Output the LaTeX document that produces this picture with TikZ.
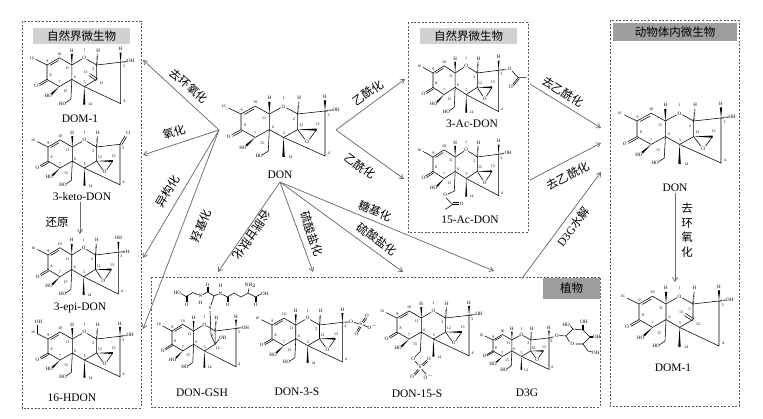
\documentclass[tikz,border=0pt]{standalone}
\usepackage{fontspec}
\setmainfont{Liberation Serif}
\newfontfamily\cjk{Noto Sans CJK SC}
\usetikzlibrary{arrows.meta}

\tikzset{
  bond/.style={line width=0.55pt},
  hash/.style={line width=1.3pt, dash pattern=on 0.5pt off 0.7pt},
  atom/.style={font=\fontsize{5}{5.5}\selectfont, inner sep=0pt},
  num/.style={font=\fontsize{4}{4.5}\selectfont, inner sep=0pt},
  cname/.style={font=\fontsize{11.5}{12}\selectfont, inner sep=1pt},
  cn/.style={font=\cjk\fontsize{11.5}{12}\selectfont, inner sep=0pt},
  rxn/.style={draw=black!58, line width=0.75pt, -{Straight Barb[length=4pt,width=5pt]}},
  zone/.style={draw=black!65, line width=0.75pt, dash pattern=on 2pt off 1.6pt},
  tag/.style={font=\cjk\fontsize{11.5}{12}\selectfont, inner sep=0pt, minimum height=16pt},
}

% DON skeleton, C9 at the origin
\newcommand{\donbase}{%
  \draw[bond] (0,0) -- (-12,-6);
  \draw[bond] (0,0) -- (13.5,-7.8) -- (27,0) -- (27,15.6) -- (13.5,23.4) -- (0,15.6) -- cycle;
  \draw[bond] (3,0.5) -- (12.5,-4.9);
  \draw[bond] (0,15.6) -- (-9,20.8) (0.9,17.2) -- (-8.1,22.4);
  \draw[bond] (27,0) -- (37.8,-6.2) (43.2,-6.2) -- (54,0) -- (54,15.6) -- (40.5,23.4) -- (27,15.6);
  \draw[bond] (54,0) -- (80,-3) -- (80,42) -- (40.5,23.4);
  \draw[bond] (27,15.6) -- (26,37);
  \fill (27,0) -- (25.9,-12) -- (28.1,-12) -- cycle;
  \draw[hash] (54,0) -- (55,-12);
  \fill (40.5,23.4) -- (39.3,43) -- (41.7,43) -- cycle;
  \fill (13.5,23.4) -- (4.3,30.8) -- (5.7,32.4) -- cycle;
  \node[atom] at (-11.8,23) {O};
  \node[atom] at (40.5,-7.6) {O};
  \node[atom] at (27,-15.8) {H};
  \node[atom] at (55.5,-15.8) {H};
  \node[atom, anchor=east] at (5.5,33.5) {HO};
  \node[num] at (-16.5,-7.5) {16};
  \node[num] at (0.5,-4) {9};
  \node[num] at (13.5,-12) {10};
  \node[num] at (22,4) {11};
  \node[num] at (4,11.5) {8};
  \node[num] at (13.5,19) {7};
  \node[num] at (30.5,13) {6};
  \node[num] at (41,19) {5};
  \node[num] at (40.5,-16) {1};
  \node[num] at (50.5,5) {2};
  \node[num] at (83.5,1) {3};
  \node[num] at (84,39) {4};
  \node[num] at (47,43) {14};
  \node[num] at (20,29) {15};
}
\newcommand{\donepox}{%
  \fill (54,15.6) -- (72,14.5) -- (72,16.7) -- cycle;
  \draw[bond] (72,15.6) -- (65.2,25.2) (60.8,25.2) -- (54,15.6);
  \node[atom] at (63,28) {O};
  \node[num] at (73,10.5) {13};
  \node[num] at (57.5,11.5) {12};
}
\newcommand{\domring}{%
  \draw[bond] (55,15) -- (46.5,9.3) (53.6,17) -- (45.4,11.5);
  \node[num] at (42,8) {13};
  \node[num] at (59,20) {12};
}
\newcommand{\donhthree}{%
  \fill (80,-3) -- (78.9,-13.5) -- (81.1,-13.5) -- cycle;
  \node[atom] at (80,-17) {H};
}
\newcommand{\donthree}{%
  \donhthree
  \draw[hash] (80,-3) -- (87,-4);
  \node[atom, anchor=west] at (87,-4.2) {OH};
}
\newcommand{\donho}{%
  \draw[bond] (26,37) -- (20.5,40.8);
  \node[atom, anchor=east] at (21,42) {HO};
}

\begin{document}
\begin{tikzpicture}[x=1pt, y=-1pt]
\useasboundingbox (0,0) rectangle (763,419);

% boxes
\draw[zone] (22,21) rectangle (141,408);
\draw[zone] (408,22) rectangle (528,232);
\draw[zone] (610,20) rectangle (739,406);
\draw[zone] (151,277) rectangle (600,407);
\node[tag, fill=black!18, minimum width=97pt] (hdr-l) at (81.5,36) {自然界微生物};
\node[tag, fill=black!18, minimum width=97pt] (hdr-m) at (468.5,36) {自然界微生物};
\node[tag, fill=black!38, minimum width=124pt, minimum height=18pt] (hdr-r) at (675,32) {动物体内微生物};
\node[tag, fill=black!38, minimum width=57pt, minimum height=21pt] (hdr-p) at (571.5,288.5) {植物};

% left column
\begin{scope}[shift={(47,65)}, scale=0.92]
  \donbase \domring \donthree \donho
\end{scope}
\node[cname] (dom1-l) at (80,119) {DOM-1};
\begin{scope}[shift={(48,147)}, scale=0.9]
  \donbase \donepox \donho
  \draw[bond] (80,-3) -- (85.5,-12.5) (81.8,-2) -- (87.3,-11.5);
  \node[atom] at (89,-15.5) {O};
\end{scope}
\node[cname] (keto) at (82,197) {3-keto-DON};
\begin{scope}[shift={(48,255)}, xscale=0.88, yscale=0.93]
  \donbase \donepox \donho
  \fill (80,-3) -- (78.9,-14) -- (81.1,-14) -- cycle;
  \node[atom] at (80,-18) {OH};
  \draw[hash] (80,-3) -- (88,-3.5);
  \node[atom, anchor=west] at (88.5,-3.7) {H};
\end{scope}
\node[cname] (epi) at (80,308) {3-epi-DON};
\begin{scope}[shift={(48,339)}, scale=0.9]
  \donbase \donepox \donthree \donho
  \draw[bond] (-12,-6) -- (-12,-16);
  \node[atom] at (-10.5,-19.5) {OH};
\end{scope}
\node[cname] (hdon) at (72,398) {16-HDON};

% centre
\begin{scope}[shift={(241,114)}, xscale=1.05]
  \donbase \donepox \donthree \donho
\end{scope}
\node[cname] (don) at (280,175) {DON};

% acetyl box
\begin{scope}[shift={(433,73)}, xscale=0.82, yscale=0.92]
  \donbase \donepox \donho \donhthree
  \draw[hash] (80,-3) -- (90,-4);
  \node[atom] at (93.5,-4.5) {O};
  \draw[bond] (96.5,-2) -- (104,5) -- (114,5);
  \draw[bond] (104,5) -- (97,12.5) (105.3,6.2) -- (98.3,13.7);
  \node[atom] at (95,15.5) {O};
\end{scope}
\node[cname] (ac3) at (472,124) {3-Ac-DON};
\begin{scope}[shift={(433,157)}, xscale=0.82, yscale=0.92]
  \donbase \donepox \donthree
  \draw[bond] (26,37) -- (18,40.5);
  \node[atom] at (15,41.5) {O};
  \draw[bond] (16,44.5) -- (24,51.5) -- (15,57);
  \draw[bond] (24,51.5) -- (32,51.5) (24,49.7) -- (32,49.7);
  \node[atom, anchor=west] at (32.5,50.8) {O};
\end{scope}
\node[cname] (ac15) at (470,220) {15-Ac-DON};

% animal box
\begin{scope}[shift={(637,121)}, xscale=1.05]
  \donbase \donepox \donthree \donho
\end{scope}
\node[cname] (don-r) at (675,188) {DON};
\begin{scope}[shift={(639,304)}]
  \donbase \domring \donthree \donho
\end{scope}
\node[cname] (dom1-r) at (673,368) {DOM-1};

% plant box
\begin{scope}[shift={(172,331)}, xscale=0.8, yscale=0.85]
  \donbase \donthree \donho
  \draw[bond] (54,15.6) -- (59,9.5);
  \node[atom, anchor=west] at (58.5,8) {OH};
  \node[num] at (57,20) {12};
\end{scope}
\node[atom, anchor=east] at (181,293) {HO};
\draw[bond] (181,293.5) -- (186,296.5) -- (193,292.5) -- (198.5,295);
\draw[bond] (186,296.5) -- (186,302) (187.4,296.5) -- (187.4,302);
\node[atom] at (186.7,305) {O};
\node[atom] at (200.5,295.5) {N};
\node[atom] at (200.5,302.5) {H};
\draw[bond] (202.5,295) -- (207.5,292) -- (214,296) -- (218.5,294);
\draw[bond] (207,292) -- (207,287.5) (208.4,292) -- (208.4,287.5);
\node[atom] at (207.7,284.5) {O};
\node[atom] at (220.5,293.5) {N};
\node[atom] at (220.5,285.5) {H};
\draw[bond] (214,296) -- (211,305);
\node[atom] at (210,308) {S};
\draw[bond] (210,311) -- (211,335) -- (215.2,344.3);
\draw[bond] (222.5,294.5) -- (227.5,297) -- (234,293) -- (241,297) -- (248,293) -- (255.5,297) -- (261,294);
\draw[bond] (227,297) -- (227,302) (228.4,297) -- (228.4,302);
\node[atom] at (227.7,305) {O};
\draw[bond] (248,293) -- (249,288.5);
\node[atom] at (250.5,285.5) {NH$_2$};
\draw[bond] (255,297) -- (255,302) (256.4,297) -- (256.4,302);
\node[atom] at (255.7,305) {O};
\node[atom, anchor=west] at (261,293.5) {OH};
\node[cname] (gsh) at (202,393) {DON-GSH};

\begin{scope}[shift={(272,325)}, scale=0.88]
  \donbase \donepox \donho \donhthree
  \draw[hash] (80,-3) -- (87,-3.5);
  \node[atom] at (90,-3.5) {O};
  \draw[bond] (93,-3) -- (98.5,-1.5);
  \node[atom] at (101,-1) {S};
  \draw[bond] (102.5,-3.5) -- (106,-8.5) (104,-2.5) -- (107.5,-7.5);
  \node[atom] at (108,-10.5) {O};
  \draw[bond] (103.5,0) -- (108.5,2);
  \node[atom, anchor=west] at (108.5,2.5) {O$^-$};
  \draw[bond] (99.5,1.5) -- (96.5,7) (101,2.3) -- (98,7.8);
  \node[atom] at (96,10) {O};
\end{scope}
\node[cname] (s3) at (297,392) {DON-3-S};

\begin{scope}[shift={(397,318)}, scale=0.9]
  \donbase \donepox \donthree
  \draw[bond] (26,37) -- (20,43);
  \node[atom] at (18,45.5) {O};
  \draw[bond] (20,48) -- (23.5,52);
  \node[atom] at (25.5,54.5) {S};
  \draw[bond] (27.5,52) -- (33,47) (28.7,53.3) -- (34.2,48.3);
  \node[atom] at (35.5,45.5) {O};
  \draw[bond] (23.5,57) -- (18.5,62.5) (24.8,58.2) -- (19.8,63.7);
  \node[atom] at (16.7,65.5) {O};
  \draw[bond] (27.5,57) -- (32.5,62.5);
  \node[atom] at (35,65.5) {O$^-$};
\end{scope}
\node[cname] (s15) at (417,394) {DON-15-S};

\begin{scope}[shift={(493,340)}, scale=0.7]
  \donbase \donepox \donho \donhthree
  \draw[hash] (80,-3) -- (87,-4);
\end{scope}
\node[atom] at (557,336) {O};
\draw[bond] (559.5,335.5) -- (566,336) -- (573,329) -- (583,330) -- (590,337) -- (583,344) -- (575.5,344);
\node[atom] at (572.5,344) {O};
\draw[bond] (569.5,342) -- (566,336);
\draw[bond] (573,329) -- (570,325.5);
\node[atom, anchor=east] at (570,325) {HO};
\draw[hash] (583,330) -- (583,324.5);
\node[atom] at (584,321.5) {OH};
\draw[hash] (590,337) -- (593,337);
\node[atom, anchor=west] at (593,337) {OH};
\draw[bond] (583,344) -- (588,351) -- (592,352);
\node[atom, anchor=west] at (592,352.5) {OH};
\node[cname] (d3g) at (527,393) {D3G};

% reaction arrows
\coordinate (fork-l) at (219,130);
\coordinate (dom1-in) at (143,60);
\coordinate (keto-in) at (143,155);
\coordinate (epi-in) at (143,258);
\coordinate (hdon-in) at (143,329);
\draw[rxn] (fork-l) -- (dom1-in);
\draw[rxn] (fork-l) -- (keto-in);
\draw[rxn] (fork-l) -- (epi-in);
\draw[rxn] (fork-l) -- (hdon-in);
\node[cn, rotate=-41] at (189,86) {去环氧化};
\node[cn, rotate=18] at (174,132) {氧化};
\node[cn, rotate=59] at (168,191) {异构化};
\node[cn, rotate=69] at (201,226) {羟基化};
\coordinate (epi-top) at (80,234);
\draw[rxn] (keto.south -| epi-top) -- (epi-top);
\node[cn] at (57,222) {还原};

\coordinate (fork-r) at (336,130);
\coordinate (ac3-in) at (405,79);
\coordinate (ac15-in) at (404,179);
\draw[rxn] (fork-r) -- (ac3-in);
\draw[rxn] (fork-r) -- (ac15-in);
\node[cn, rotate=36] at (368,93) {乙酰化};
\node[cn, rotate=-36] at (360,166) {乙酰化};

\coordinate (fork-b) at ([yshift=-2pt]don.south);
\coordinate (gsh-in) at (218,272);
\coordinate (s3-in) at (313,272);
\coordinate (s15-in) at (403,272);
\coordinate (d3g-in) at (494,271);
\draw[rxn] (fork-b) -- (gsh-in);
\draw[rxn] (fork-b) -- (s3-in);
\draw[rxn] (fork-b) -- (s15-in);
\draw[rxn] (fork-b) -- (d3g-in);
\node[cn, rotate=-125] at (252,235) {谷胱甘肽化};
\node[cn, rotate=-70] at (312,234) {硫酸盐化};
\node[cn, rotate=-36] at (377,239) {硫酸盐化};
\node[cn, rotate=-22] at (375,211) {糖基化};

\coordinate (ac3-out) at (530,84);
\coordinate (ac15-out) at (530,180);
\coordinate (d3g-out) at (523,277);
\coordinate (don-in1) at (601,128);
\coordinate (don-in2) at (601,143);
\coordinate (don-in3) at (601,172);
\draw[rxn] (ac3-out) -- (don-in1);
\draw[rxn] (ac15-out) -- (don-in2);
\draw[rxn] (d3g-out) -- (don-in3);
\node[cn, rotate=-32] at (563,92) {去乙酰化};
\node[cn, rotate=28] at (568,176) {去乙酰化};
\node[font=\fontsize{11.5}{12}\selectfont, inner sep=0pt, rotate=53] at (573,227) {D3G{\cjk 水解}};

\coordinate (dom1-top) at (675,282);
\draw[rxn] (don-r.south) -- (dom1-top);
\node[cn, align=center, font=\cjk\fontsize{11.5}{14.5}\selectfont] at (687,230) {去\\环\\氧\\化};
\end{tikzpicture}
\end{document}
